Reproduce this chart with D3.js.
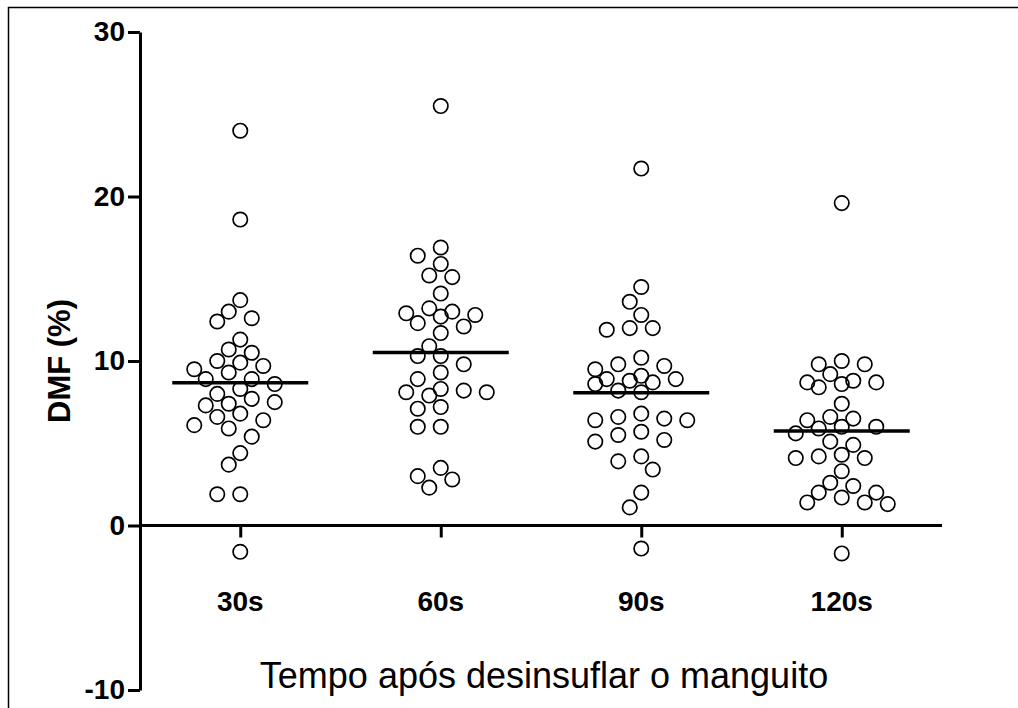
<!DOCTYPE html>
<html>
<head>
<meta charset="utf-8">
<script src="https://cdn.jsdelivr.net/npm/d3@7"></script>
<style>
  html, body { margin: 0; padding: 0; background: #fff; }
  svg { display: block; }
</style>
</head>
<body>
<svg id="dmf-chart"></svg>
<script>
// Data (DMF % per time after cuff deflation)
const groups = ["30s", "60s", "90s", "120s"];
const dmf30 = [24.0, 18.6, 13.7, 13.0, 12.6, 12.4, 11.3, 10.7, 10.5, 10.0, 9.9, 9.7, 9.5, 9.3, 8.9, 8.9, 8.6,
  8.3, 8.0, 7.7, 7.4, 7.5, 7.3, 6.8, 6.6, 6.4, 6.1, 5.9, 5.4, 4.4, 3.7, 1.9, 1.9, -1.6];
const dmf60 = [25.5, 16.9, 16.4, 15.9, 15.2, 15.1, 14.1, 13.2, 13.0, 12.9, 12.8, 12.7, 12.3, 12.1, 11.7, 10.9, 10.3,
  10.3, 9.8, 9.3, 8.9, 8.3, 8.2, 8.1, 8.1, 7.9, 7.2, 7.1, 6.0, 6.0, 3.5, 3.0, 2.8, 2.3];
const dmf90 = [21.7, 14.5, 13.6, 12.8, 12.0, 11.9, 12.0, 10.2, 9.8, 9.7, 9.5, 9.1, 8.9, 8.9, 8.8, 8.7, 8.6,
  8.2, 8.1, 6.8, 6.6, 6.5, 6.4, 6.4, 5.7, 5.5, 5.2, 5.1, 4.2, 3.9, 3.4, 2.0, 1.1, -1.4];
const dmf120 = [19.6, 10.0, 9.8, 9.8, 9.2, 8.8, 8.7, 8.7, 8.6, 8.4, 7.4, 6.6, 6.5, 6.4, 6.0, 6.0, 5.9,
  5.6, 5.1, 4.9, 4.3, 4.2, 4.1, 4.1, 3.3, 2.6, 2.4, 2.0, 2.0, 1.7, 1.4, 1.4, 1.3, -1.7];
const yTicks = [-10, 0, 10, 20, 30];
const yTitle = "DMF (%)";
const xTitle = "Tempo após desinsuflar o manguito";

const seriesValues = [dmf30, dmf60, dmf90, dmf120];

// Dimensions
const width = 1018;
const height = 708;
const plot = { left: 140, right: 942, top: 32, bottom: 690 };
const fontFamily = "Arial, 'Liberation Sans', sans-serif";

const svg = d3.select("#dmf-chart").attr("width", width).attr("height", height);

// Frame round the figure (right and bottom edges fall outside the picture)
svg.append("path")
  .attr("d", `M8.5,${height + 2}V7.5H${width + 2}`)
  .attr("fill", "none")
  .attr("stroke", "#000")
  .attr("stroke-width", 1.5);

// Scales
const xScale = d3.scalePoint().domain(groups).range([plot.left, plot.right]).padding(0.5);
const yScale = d3.scaleLinear().domain([-10, 30]).range([plot.bottom, plot.top]);

// Y axis
const yAxis = svg.append("g")
  .attr("transform", `translate(${plot.left},0)`)
  .call(
    d3.axisLeft(yScale)
      .tickValues(yTicks)
      .tickFormat((d) => String(d))
      .tickSize(12)
      .tickPadding(3)
      .tickSizeOuter(0)
  );
yAxis.select(".domain").attr("stroke-width", 3);
yAxis.selectAll(".tick line").attr("stroke-width", 3);
yAxis.selectAll(".tick text")
  .style("font-family", fontFamily)
  .style("font-size", "28px")
  .style("font-weight", "bold")
  .attr("fill", "#000");

// X axis drawn at y = 0
const xAxis = svg.append("g")
  .attr("transform", `translate(0,${yScale(0)})`)
  .call(d3.axisBottom(xScale).tickSize(12).tickSizeOuter(0).tickFormat(""));
xAxis.select(".domain").attr("d", `M${plot.left},0H${plot.right}`).attr("stroke-width", 3);
xAxis.selectAll(".tick line").attr("stroke-width", 3);

// Group labels below the axis
svg.append("g")
  .selectAll("text")
  .data(groups)
  .join("text")
  .attr("x", (d) => xScale(d))
  .attr("y", 611)
  .attr("text-anchor", "middle")
  .style("font-family", fontFamily)
  .style("font-size", "28px")
  .style("font-weight", "bold")
  .text((d) => d);

// Axis titles
svg.append("text")
  .attr("transform", `translate(70,361) rotate(-90)`)
  .attr("text-anchor", "middle")
  .style("font-family", fontFamily)
  .style("font-size", "31px")
  .style("font-weight", "bold")
  .text(yTitle);

svg.append("text")
  .attr("x", 544)
  .attr("y", 688)
  .attr("text-anchor", "middle")
  .style("font-family", fontFamily)
  .style("font-size", "36px")
  .text(xTitle);

// Scatter placement: points that would overlap are pushed sideways,
// kept within 4 half-slots of the group centre (least crowded slot wins)
const slot = 11.5;
const minDist = 15;
const maxK = 4;
function swarm(values, group) {
  const cx = xScale(group);
  const placed = [];
  values
    .slice()
    .sort((a, b) => b - a)
    .forEach((v) => {
      const py = yScale(v);
      let best = null;
      let bestGap = -1;
      for (let i = 0; i <= maxK * 2; i++) {
        const k = i === 0 ? 0 : (i % 2 ? -Math.ceil(i / 2) : Math.ceil(i / 2));
        const px = cx + k * slot;
        const gap = d3.min(placed, (p) => Math.hypot(p.x - px, p.y - py)) ?? Infinity;
        if (gap >= minDist) {
          best = px;
          break;
        }
        if (gap > bestGap) {
          bestGap = gap;
          best = px;
        }
      }
      placed.push({ x: best, y: py, value: v, group: group });
    });
  return placed;
}

const points = groups.flatMap((g, i) => swarm(seriesValues[i], g));

// Mean lines
const meanHalf = 68;
svg.append("g")
  .selectAll("line")
  .data(groups.map((g, i) => ({ group: g, mean: d3.mean(seriesValues[i]) })))
  .join("line")
  .attr("x1", (d) => xScale(d.group) - meanHalf)
  .attr("x2", (d) => xScale(d.group) + meanHalf)
  .attr("y1", (d) => yScale(d.mean))
  .attr("y2", (d) => yScale(d.mean))
  .attr("stroke", "#000")
  .attr("stroke-width", 3.5);

// Points
svg.append("g")
  .selectAll("circle")
  .data(points)
  .join("circle")
  .attr("cx", (d) => d.x)
  .attr("cy", (d) => d.y)
  .attr("r", 7.2)
  .attr("fill", "none")
  .attr("stroke", "#000")
  .attr("stroke-width", 1.7);
</script>
</body>
</html>
